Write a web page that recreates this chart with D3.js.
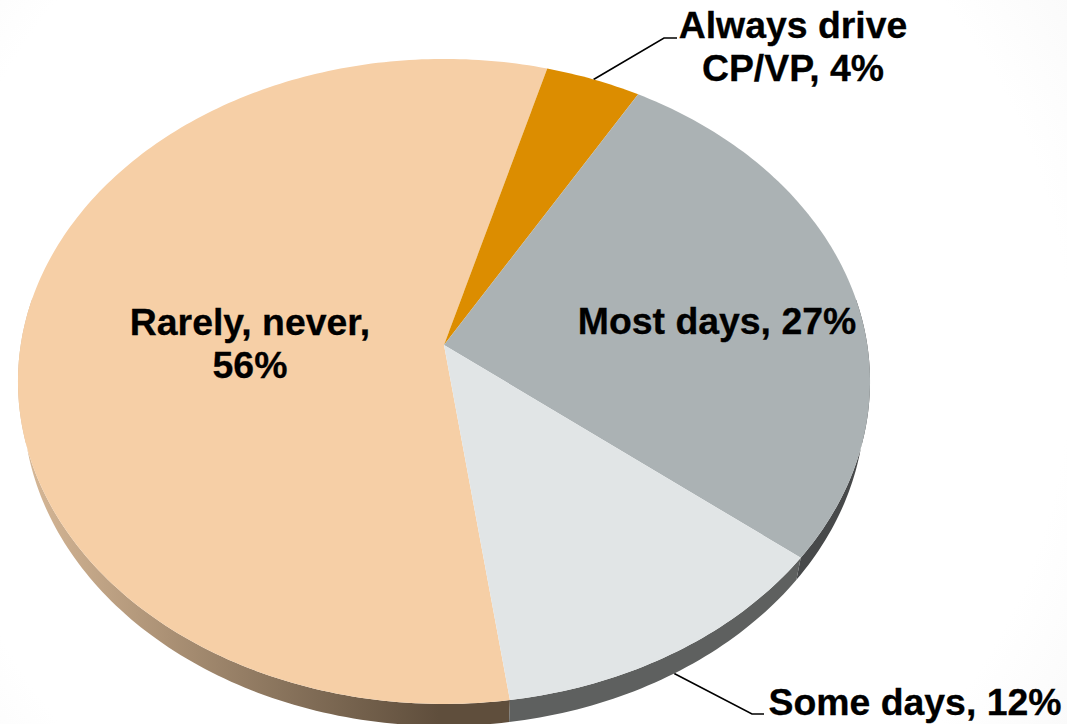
<!DOCTYPE html>
<html><head><meta charset="utf-8">
<script src="https://cdn.jsdelivr.net/npm/d3@7"></script>
<style>html,body{margin:0;padding:0;background:#fff;overflow:hidden}svg{display:block}
text{font-family:"Liberation Sans",Arial,sans-serif;font-weight:700;font-size:37.4px;fill:#000;stroke:#000;stroke-width:0.3px}</style>
</head><body><svg id="c" width="1067" height="724"></svg>
<script>
const categories=["Rarely, never","Always drive CP/VP","Most days","Some days"];
const values=[56,4,27,12];
const topColors=["#f6cfa6","#dc8d00","#abb2b4","#e1e5e6"];
const wallColors=["url(#wallRarely)","#7a5a20","#47494a","#5e605f"];
const W=1067,H=724;
const cx=444,cy=345,a=423.3,b=318.4,q=0.113,depth=22,bottomScale=0.988;
const startDeg=172.05;
const svg=d3.select("#c");
const defs=svg.append("defs");
const g1=defs.append("linearGradient").attr("id","wallRarely").attr("gradientUnits","userSpaceOnUse")
 .attr("x1",20).attr("x2",512).attr("y1",0).attr("y2",0);
[[0,"#d8b998"],[0.3,"#ab9175"],[0.6,"#7f6b55"],[0.85,"#5f4e3c"],[1,"#5f4e3c"]].forEach(s=>g1.append("stop").attr("offset",s[0]).attr("stop-color",s[1]));
const bg=defs.append("radialGradient").attr("id","bg").attr("gradientUnits","userSpaceOnUse")
 .attr("cx",500).attr("cy",360).attr("r",760);
[[0,"#ffffff"],[0.75,"#ffffff"],[1,"#f6f6f6"]].forEach(s=>bg.append("stop").attr("offset",s[0]).attr("stop-color",s[1]));
svg.append("rect").attr("width",W).attr("height",H).attr("fill","url(#bg)");

const pie=d3.pie().sort(null).value(d=>d)
 .startAngle(startDeg*Math.PI/180).endAngle((startDeg+360)*Math.PI/180);
const arcs=pie(values);
function proj(t,r=1){const x=r*Math.sin(t),y=-r*Math.cos(t),w=1-q*y;return [cx+a*x/w,cy+b*y/w];}
function low(t){const p=proj(t);return [cx+(p[0]-cx)*bottomScale,p[1]+depth];}
const line=d3.line();
const samples=d=>d3.range(0,1.0001,1/Math.max(8,Math.ceil((d.endAngle-d.startAngle)*60))).map(f=>d.startAngle+f*(d.endAngle-d.startAngle));

// leader lines (under the pie)
const leaders=[{i:1,mid:[664,38],end:[677,38],wall:false},{i:3,mid:[752,714],end:[764,714],wall:true}];
svg.append("g").selectAll("path").data(leaders).join("path")
 .attr("fill","none").attr("stroke","#000").attr("stroke-width",1.6)
 .attr("d",l=>{const d=arcs[l.i],m=(d.startAngle+d.endAngle)/2,p=l.wall?low(m):proj(m);return line([p,l.mid,l.end]);});

// side wall: only the front half
const wallG=svg.append("g");
wallG.selectAll("path").data(arcs).join("path")
 .attr("fill",(d,i)=>wallColors[i])
 .attr("d",d=>{const ts=samples(d).filter(t=>Math.cos(t)<0.15);if(!ts.length)return null;
   return line(ts.map(t=>proj(t)).concat(ts.slice().reverse().map(low)))+"Z";});

// top surface
svg.append("g").selectAll("path").data(arcs).join("path")
 .attr("fill",(d,i)=>topColors[i])
 .attr("d",d=>line([[cx,cy]].concat(samples(d).map(t=>proj(t))))+"Z");

// labels
const labelLines=[["Rarely, never,","56%"],["Always drive","CP/VP, 4%"],["Most days, 27%"],["Some days, 12%"]];
const labelPos=[[250,335],[793,38],[717,334],[915,715]];
const lineGap=[43,43,0,0];
const t=svg.append("g").selectAll("text").data(labelLines).join("text")
 .attr("text-anchor","middle").attr("x",(d,i)=>labelPos[i][0]).attr("y",(d,i)=>labelPos[i][1]);
t.selectAll("tspan").data((d,i)=>d.map((s,j)=>({s,j,i}))).join("tspan")
 .attr("x",d=>labelPos[d.i][0]).attr("dy",d=>d.j?lineGap[d.i]:0).text(d=>d.s);
</script></body></html>
